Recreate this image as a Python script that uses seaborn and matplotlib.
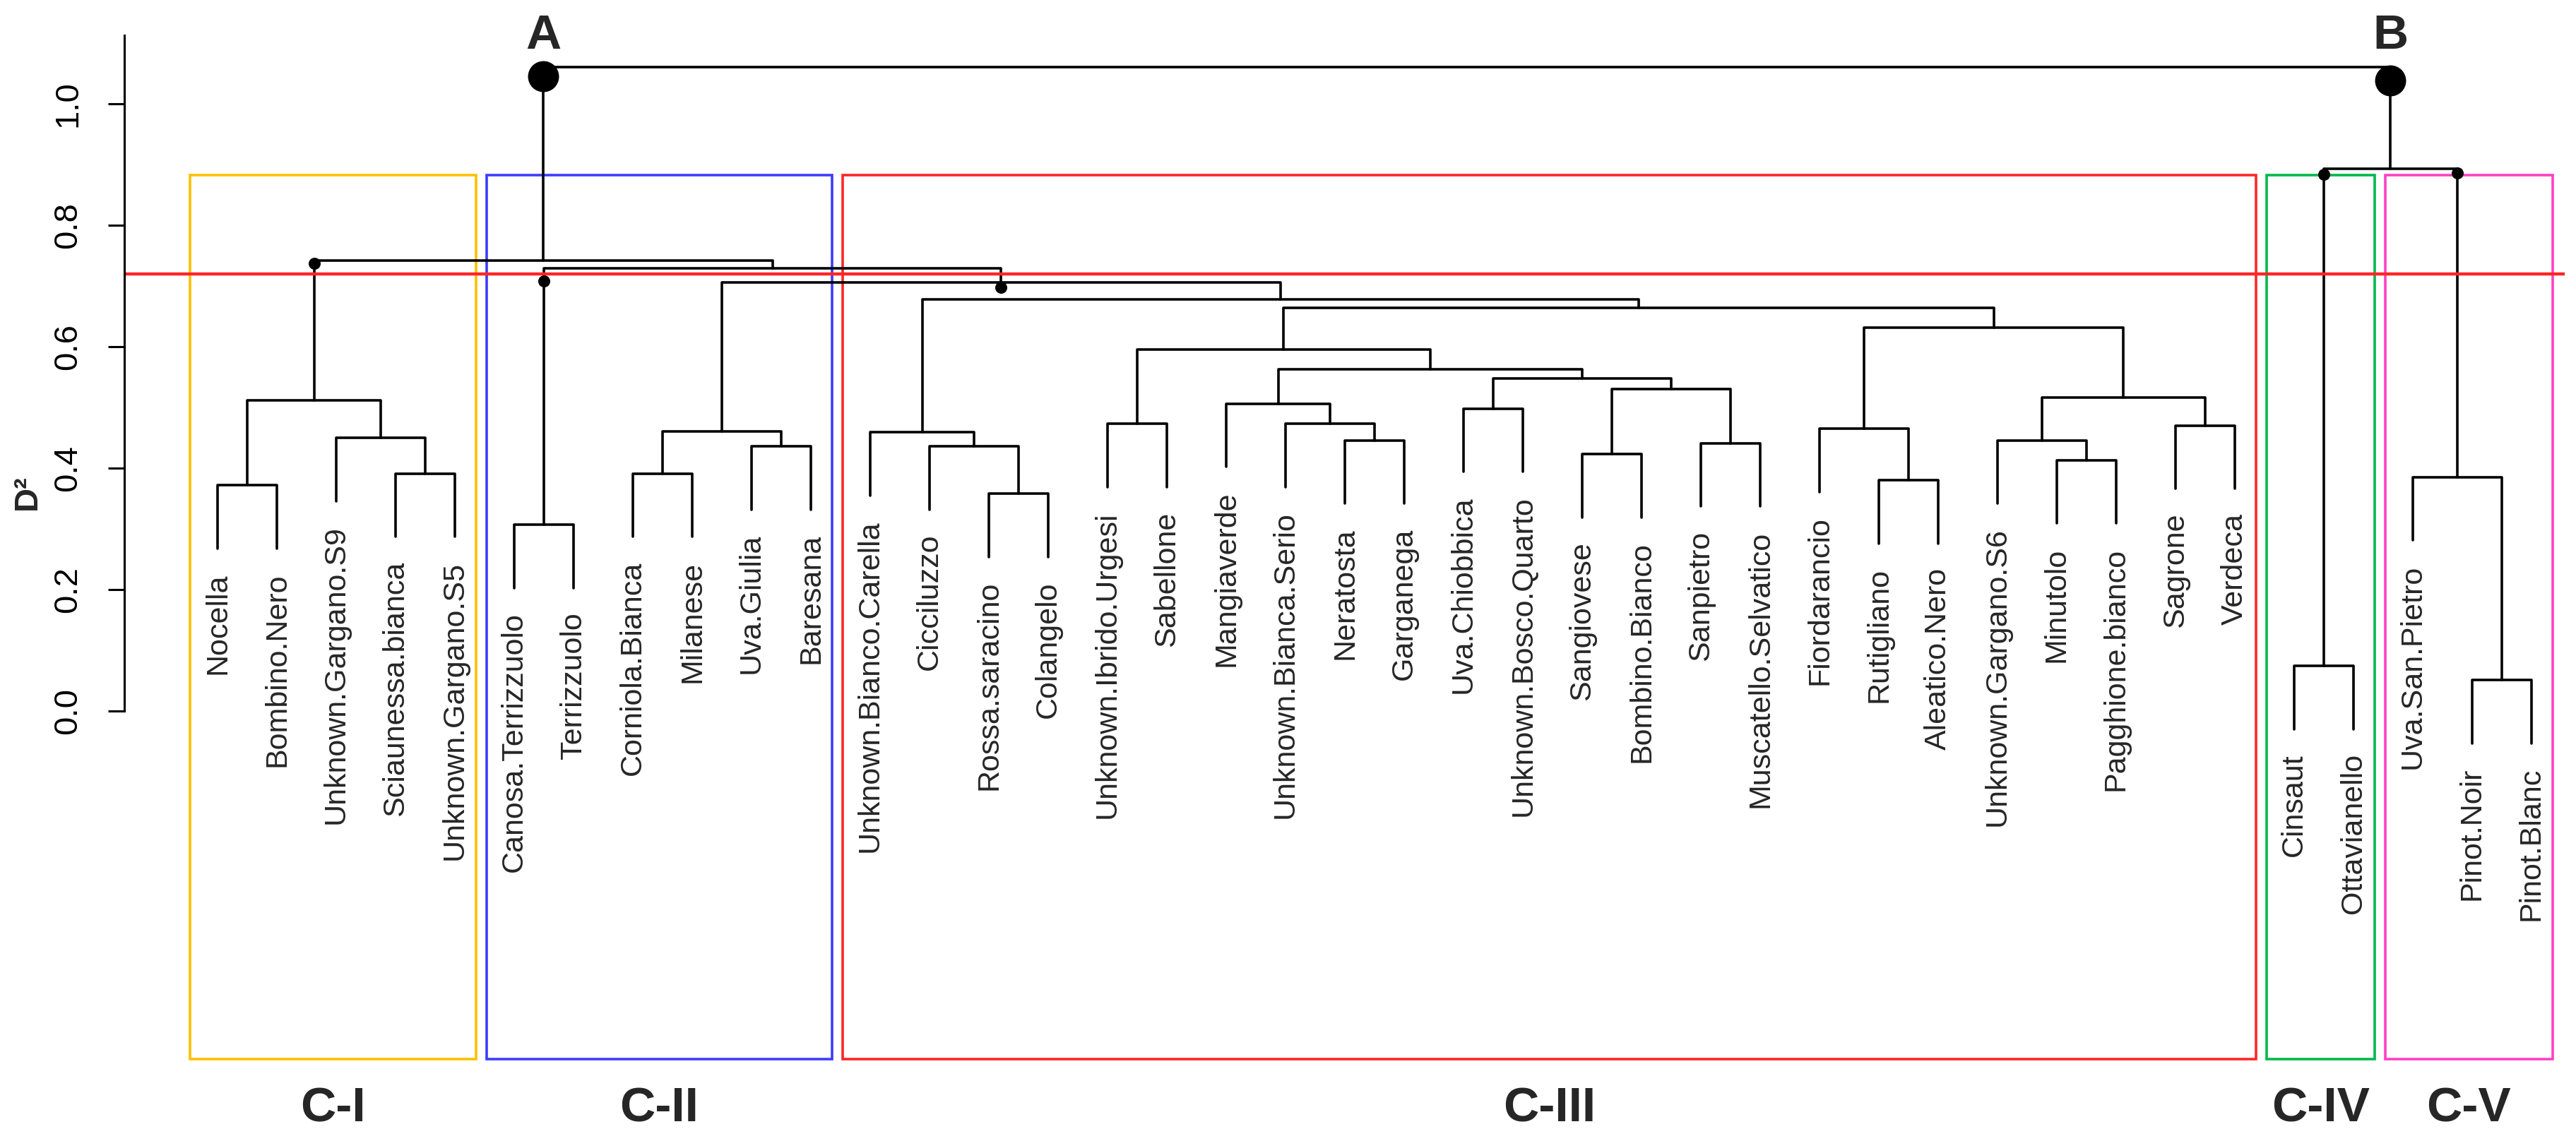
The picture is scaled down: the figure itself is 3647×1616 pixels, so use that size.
import numpy as np
import pandas as pd
import matplotlib
matplotlib.use('Agg')
import matplotlib.pyplot as plt
import seaborn as sns
from matplotlib.patches import Rectangle

# leaves in drawing order, left to right
leaf_labels = [
    'Nocella', 'Bombino.Nero', 'Unknown.Gargano.S9', 'Sciaunessa.bianca', 'Unknown.Gargano.S5',
    'Canosa.Terrizzuolo', 'Terrizzuolo', 'Corniola.Bianca', 'Milanese', 'Uva.Giulia', 'Baresana',
    'Unknown.Bianco.Carella', 'Cicciluzzo', 'Rossa.saracino', 'Colangelo', 'Unknown.Ibrido.Urgesi',
    'Sabellone', 'Mangiaverde', 'Unknown.Bianca.Serio', 'Neratosta', 'Garganega', 'Uva.Chiobbica',
    'Unknown.Bosco.Quarto', 'Sangiovese', 'Bombino.Bianco', 'Sanpietro', 'Muscatello.Selvatico',
    'Fiordarancio', 'Rutigliano', 'Aleatico.Nero', 'Unknown.Gargano.S6', 'Minutolo',
    'Pagghione.bianco', 'Sagrone', 'Verdeca', 'Cinsaut', 'Ottavianello', 'Uva.San.Pietro',
    'Pinot.Noir', 'Pinot.Blanc',
]

# R style merge table: negative = leaf number, positive = earlier merge row (1-based)
merge_left = [-39, -36, -6, -14, -1, -29, -38, -4, -8, -32, -24, -10, -13, -26, -20, -31, -3, 9, -12,
              -28, -34, -16, -19, -22, -18, 5, 16, 11, 24, 25, 22, 20, 31, 19, 18, 3, 26, 2, 37]
merge_right = [-40, -37, -7, -15, -2, -30, 1, -5, -9, -33, -25, -11, 4, -27, -21, 10, 8, 12, 13,
               6, -35, -17, 15, -23, 23, 17, 21, 14, 28, 29, 30, 27, 32, 33, 34, 35, 36, 7, 38]
merge_height = [0.051, 0.074, 0.307, 0.358, 0.372, 0.380, 0.385, 0.391, 0.391, 0.413, 0.423, 0.436,
                0.436, 0.441, 0.446, 0.446, 0.450, 0.460, 0.459, 0.465, 0.470, 0.473, 0.473, 0.498,
                0.506, 0.512, 0.516, 0.530, 0.548, 0.563, 0.595, 0.632, 0.664, 0.678, 0.706, 0.729,
                0.742, 0.893, 1.060]

hang = 0.104
cut_height = 0.72

# small node marks: merge row and dot height
dot_nodes = [26, 3, 35, 2, 7]
dot_heights = [0.737, 0.708, 0.698, 0.884, 0.886]
# the two main groups
group_nodes = [37, 38]
group_heights = [1.045, 1.039]
group_names = ['A', 'B']

cluster_names = ['C-I', 'C-II', 'C-III', 'C-IV', 'C-V']
cluster_first = [1, 6, 12, 36, 38]
cluster_last = [5, 11, 35, 37, 40]
cluster_colors = ['#FFC000', '#3C3CFF', '#FF2626', '#00B84A', '#FF40C4']

# ---- build the dendrogram segments
node_x = {}
leaf_end = {}
rows = []
for k, (l, r, h) in enumerate(zip(merge_left, merge_right, merge_height)):
    pts = []
    for ref in (l, r):
        if ref < 0:
            x, y0 = -ref, h - hang
            leaf_end[-ref] = y0
        else:
            x, y0 = node_x[ref], merge_height[ref - 1]
        pts.append((x, y0))
    (xl, yl), (xr, yr) = pts
    node_x[k + 1] = (xl + xr) / 2
    for x, y in [(xl, yl), (xl, h), (xr, h), (xr, yr)]:
        rows.append({'seg': k, 'x': x, 'y': y})
seg_df = pd.DataFrame(rows)

sns.set_theme(style='white')
plt.rcParams['font.family'] = ['Liberation Sans', 'DejaVu Sans']

fig = plt.figure(figsize=(36.48, 16.16), dpi=100)
ax = fig.add_axes([0, 0, 1, 1])

sns.lineplot(data=seg_df, x='x', y='y', units='seg', estimator=None, sort=False,
             color='black', linewidth=2.6, ax=ax, legend=False)

# dots on nodes
sns.scatterplot(x=[node_x[n] for n in dot_nodes], y=dot_heights, s=150, color='black',
                linewidth=0, ax=ax, zorder=5)
sns.scatterplot(x=[node_x[n] for n in group_nodes], y=group_heights, s=1000, color='black',
                linewidth=0, ax=ax, zorder=5)
for n, name in zip(group_nodes, group_names):
    ax.text(node_x[n], 1.091, name, ha='center', va='baseline', fontsize=50, fontweight='bold')

# leaf labels
for i, lab in enumerate(leaf_labels, start=1):
    ax.text(i, leaf_end[i] - 0.04, lab, rotation=90, ha='center', va='top', fontsize=31)

# cluster boxes
box_top, box_bottom = 0.8826, -0.5733
for name, a, b, col in zip(cluster_names, cluster_first, cluster_last, cluster_colors):
    x0, x1 = a - 0.47, b + 0.36
    ax.add_patch(Rectangle((x0, box_bottom), x1 - x0, box_top - box_bottom, fill=False,
                           edgecolor=col, linewidth=2.6, zorder=1))
    ax.text((x0 + x1) / 2, -0.676, name, ha='center', va='baseline', fontsize=50,
            fontweight='bold')

# cut line
axis_x = -0.571
ax.hlines(cut_height, axis_x, cluster_last[-1] + 0.56, color='#FF2626', linewidth=3.2, zorder=2)

ax.set_xlim(-2.667, 40.762)
ax.set_ylim(-0.708, 1.171)

for s in ['top', 'right', 'bottom']:
    ax.spines[s].set_visible(False)
ax.spines['left'].set_position(('data', axis_x))
ax.spines['left'].set_bounds(0, 1.113)
ax.spines['left'].set_linewidth(2.2)
ax.spines['left'].set_color('black')
ax.set_xticks([])
ticks = [0.0, 0.2, 0.4, 0.6, 0.8, 1.0]
ax.set_yticks(ticks)
ax.set_yticklabels([f'{t:.1f}' for t in ticks], rotation=90, va='center', ha='center')
ax.tick_params(axis='y', left=True, length=16.5, width=2.2, pad=41, labelsize=34,
               colors='black', direction='out')
ax.set_xlabel('')
ax.set_ylabel('')
ax.text(-2.21, 0.36, 'D²', rotation=90, ha='center', va='center', fontsize=34,
        fontweight='bold')
ax.grid(False)

fig.savefig('out.png', dpi=100, facecolor='white')
